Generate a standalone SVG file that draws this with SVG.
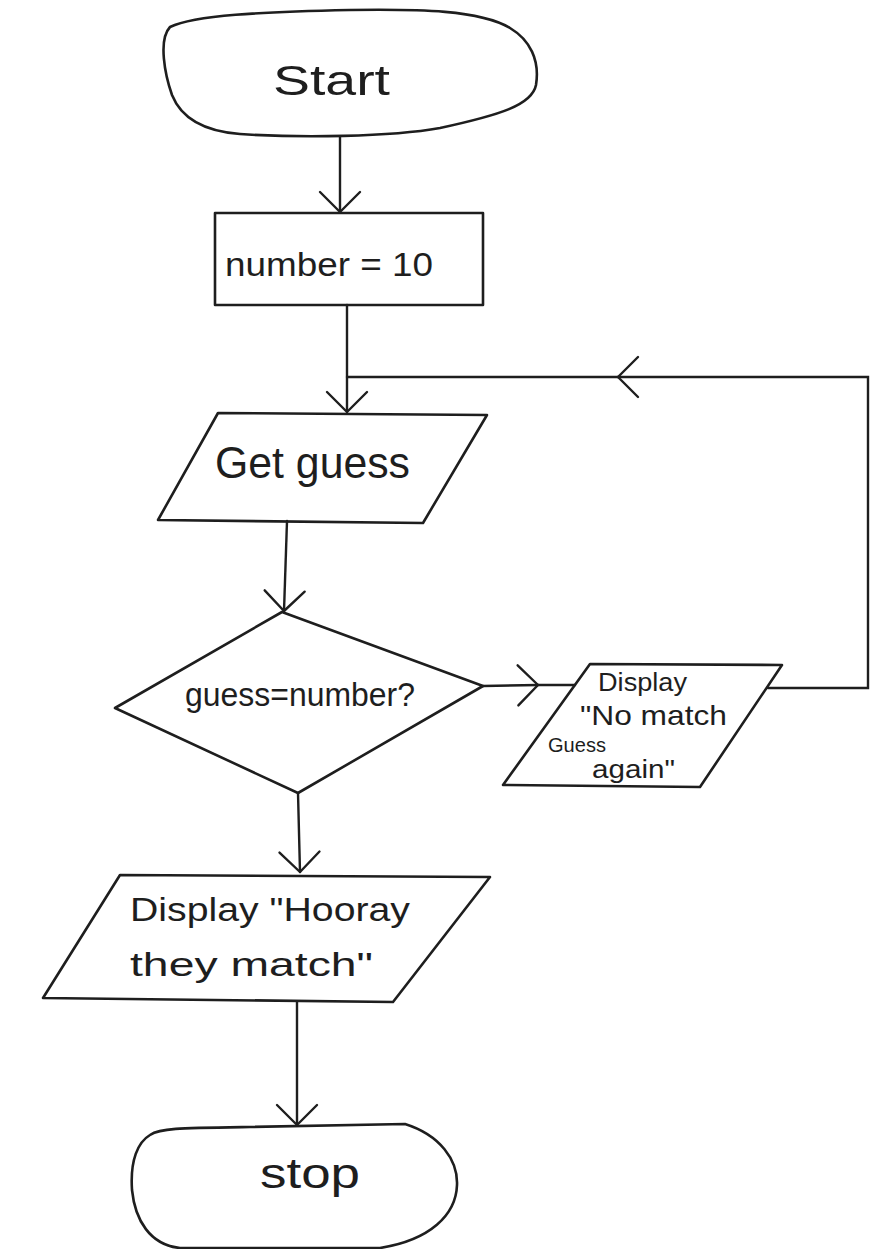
<svg xmlns="http://www.w3.org/2000/svg" width="870" height="1249" viewBox="0 0 870 1249">
<style>
.shape{fill:none;stroke:#1e1e1e;stroke-width:2.6;stroke-linejoin:round;stroke-linecap:round}
.conn{fill:none;stroke:#1e1e1e;stroke-width:2.4;stroke-linecap:round}
.t{font-family:"Liberation Sans","DejaVu Sans",sans-serif;fill:#1e1e1e}
</style>
<defs>
<marker id="v" markerUnits="userSpaceOnUse" viewBox="-26 -26 30 52" refX="0" refY="0" markerWidth="30" markerHeight="52" orient="auto">
<path d="M-20,-20 L0,0 L-20,20" fill="none" stroke="#1e1e1e" stroke-width="2.4" stroke-linecap="round" stroke-linejoin="round"/>
</marker>
</defs>
<rect width="870" height="1249" fill="#ffffff"/>
<g id="connectors">
<path class="conn" d="M340,137 L340,212" marker-end="url(#v)"/>
<path class="conn" d="M347,305 L347,412" marker-end="url(#v)"/>
<path class="conn" d="M287,521 L284,611" marker-end="url(#v)"/>
<path class="conn" d="M483,686 L538,685" marker-end="url(#v)"/>
<path class="conn" d="M538,685 L575,685"/>
<path class="conn" d="M768,688 L868,688 L868,377 L618,377" marker-end="url(#v)"/>
<path class="conn" d="M618,377 L347,377"/>
<path class="conn" d="M298,793 L300,872" marker-end="url(#v)"/>
<path class="conn" d="M297,1002 L297,1125" marker-end="url(#v)"/>
</g>
<g id="start">
<path class="shape" d="M170,27 C195,15 260,12 350,10 C420,9 480,10 510,28 C530,40 540,60 536,85 C532,105 500,115 440,128 C390,137 300,138 240,134 C200,131 180,115 172,95 C165,75 158,40 170,27 Z"/>
<text class="t" x="273" y="95" font-size="42" textLength="117" lengthAdjust="spacingAndGlyphs">Start</text>
</g>
<g id="assign">
<path class="shape" d="M215,213 L483,213 L483,305 L215,305 Z"/>
<text class="t" x="225" y="276" font-size="34" textLength="208" lengthAdjust="spacingAndGlyphs">number = 10</text>
</g>
<g id="getguess">
<path class="shape" d="M218,413 L487,415 L423,523 L158,520 Z"/>
<text class="t" x="215" y="478" font-size="44" textLength="195" lengthAdjust="spacingAndGlyphs">Get guess</text>
</g>
<g id="decision">
<path class="shape" d="M282,612 L483,686 L298,793 L115,708 Z"/>
<text class="t" x="185" y="706" font-size="34" textLength="230" lengthAdjust="spacingAndGlyphs">guess=number?</text>
</g>
<g id="nomatch">
<path class="shape" d="M590,664 L782,665 L700,787 L503,785 Z"/>
<text class="t" x="598" y="691" font-size="26" textLength="89" lengthAdjust="spacingAndGlyphs">Display</text>
<text class="t" x="580" y="725" font-size="28" textLength="147" lengthAdjust="spacingAndGlyphs">"No match</text>
<text class="t" x="548" y="752" font-size="21" textLength="58" lengthAdjust="spacingAndGlyphs">Guess</text>
<text class="t" x="592" y="778" font-size="25" textLength="83" lengthAdjust="spacingAndGlyphs">again"</text>
</g>
<g id="hooray">
<path class="shape" d="M120,875 L490,877 L393,1002 L43,998 Z"/>
<text class="t" x="130" y="921" font-size="34" textLength="280" lengthAdjust="spacingAndGlyphs">Display "Hooray</text>
<text class="t" x="130" y="976" font-size="34" textLength="243" lengthAdjust="spacingAndGlyphs">they match"</text>
</g>
<g id="stop">
<path class="shape" d="M150,1135 C160,1128 180,1128 250,1127 L405,1124 C440,1135 458,1160 457,1185 C456,1215 430,1240 380,1248 L180,1248 C150,1245 135,1220 132,1190 C130,1160 138,1142 150,1135 Z"/>
<text class="t" x="260" y="1188" font-size="42" textLength="100" lengthAdjust="spacingAndGlyphs">stop</text>
</g>
</svg>
